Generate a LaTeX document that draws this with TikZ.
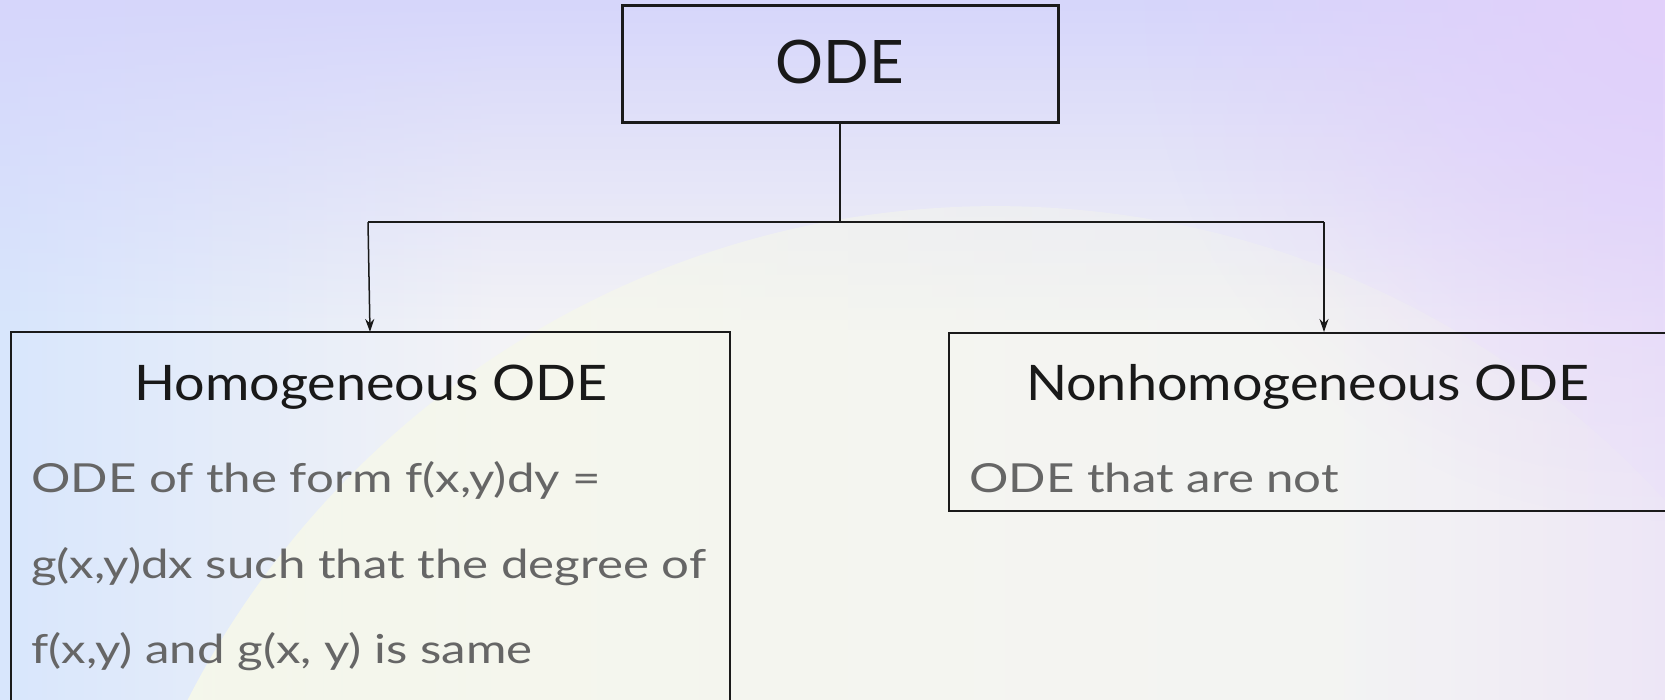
\documentclass[tikz,border=0pt]{standalone}
\usepackage{fontspec}
\setmainfont{Lato}
\newfontfamily\headfont[FakeStretch=1.10]{Lato}
\newfontfamily\bodyfont[FakeStretch=1.23]{Lato}
\usetikzlibrary{arrows.meta,fadings}
\definecolor{bgbase}{HTML}{F3F3F6}
\definecolor{bgleft}{HTML}{D8E6FC}
\definecolor{bgright}{HTML}{ECE4F8}
\definecolor{bgtop}{HTML}{D6D6FB}
\definecolor{bgpurple}{HTML}{E2D0FB}
\definecolor{bgcream}{HTML}{F6F8EA}
\definecolor{bodygray}{HTML}{666666}
\definecolor{linedark}{HTML}{1A1A1A}
\pgfdeclarehorizontalshading{bgshade}{100bp}{color(0bp)=(bgleft); color(25bp)=(bgleft); color(40bp)=(bgbase); color(65bp)=(bgbase); color(75bp)=(bgright); color(100bp)=(bgright)}
\tikzfading[name=creamfade, left color=transparent!0, right color=transparent!100, middle color=transparent!60]
\tikzfading[name=softcircle, inner color=transparent!0, outer color=transparent!100]
\tikzset{
  topbox/.style={draw=linedark, line width=3pt},
  subbox/.style={draw=linedark, line width=1.6pt},
  conn/.style={draw=linedark, line width=1.5pt},
  tipconn/.style={conn, -{Stealth[length=13pt,width=9pt]}},
  headtext/.style={anchor=base, font=\headfont\fontsize{49}{59}\selectfont, text=black!90},
  bodytext/.style={anchor=base west, font=\bodyfont\fontsize{40}{48}\selectfont, text=bodygray, inner sep=0pt},
}
\begin{document}
\begin{tikzpicture}[x=1pt,y=-1pt]
\useasboundingbox (0,0) rectangle (1665,699);
% background
\shade[shading=bgshade] (0,0) rectangle (1665,699);
\fill[bgtop, path fading=south] (0,0) rectangle (1665,330);
\fill[bgpurple, path fading=softcircle] (1665,0) circle (520);
\fill[bgcream, path fading=creamfade] (1000,1110) circle (910);
% boxes
\node[topbox, minimum width=436pt, minimum height=117pt, inner sep=0pt] (top) at (840,63.5) {};
\node[anchor=base, font=\fontsize{60}{72}\selectfont, text=black!90] (toplbl) at (840,83) {ODE};
\draw[subbox] (11,720) -- (11,332) -- (730,332) -- (730,720);
\coordinate (homNW) at (11,332);
\node[subbox, minimum width=720pt, minimum height=178pt, inner sep=0pt, anchor=north west] (non) at (948,332) {};
% texts
\node[headtext] (homh) at (371,400) {Homogeneous ODE};
\node[bodytext] (homb1) at (31,492) {ODE of the form f(x,y)dy =};
\node[bodytext] (homb2) at (31,578) {g(x,y)dx such that the degree of};
\node[bodytext] (homb3) at (31,663) {f(x,y) and g(x, y) is same};
\node[headtext] (nonh) at (1308,400) {Nonhomogeneous ODE};
\node[bodytext] (nonb) at (969,492) {ODE that are not};
% connectors
\coordinate (junc) at (840,222);
\coordinate (jl) at (368,222);
\coordinate (jr) at (1324,222);
\coordinate (homin) at (370,332);
\coordinate (nonin) at (1324,332);
\draw[conn] (top.south) -- (junc);
\draw[conn] (jl) -- (jr);
\draw[tipconn] (jl) -- (homin);
\draw[tipconn] (jr) -- (nonin);
\end{tikzpicture}
\end{document}
